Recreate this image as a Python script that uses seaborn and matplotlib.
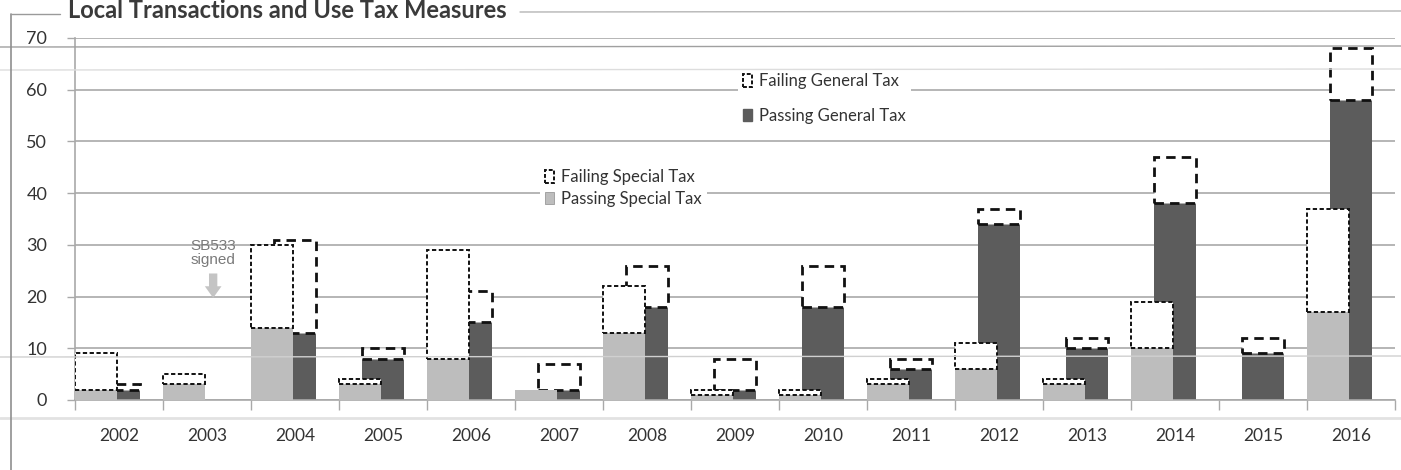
import numpy as np
import pandas as pd
import matplotlib
matplotlib.use("Agg")
import matplotlib.pyplot as plt
from matplotlib.patches import Patch
from matplotlib.lines import Line2D
import seaborn as sns

# Measures per election year
years = [2002, 2003, 2004, 2005, 2006, 2007, 2008, 2009,
         2010, 2011, 2012, 2013, 2014, 2015, 2016]
special_pass = [2, 3, 14, 3, 8, 2, 13, 1, 1, 3, 6, 3, 10, 0, 17]
special_fail = [7, 2, 16, 1, 21, 0, 9, 1, 1, 1, 5, 1, 9, 0, 20]
general_pass = [2, 0, 13, 8, 15, 2, 18, 2, 18, 6, 34, 10, 38, 9, 58]
general_fail = [1, 0, 18, 2, 6, 5, 8, 6, 8, 2, 3, 2, 9, 3, 10]
y_ticks = [0, 10, 20, 30, 40, 50, 60, 70]

title = "Local Transactions and Use Tax Measures"

sns.set_theme(style="white")
plt.rcParams["font.family"] = ["Lato", "DejaVu Sans"]

C_SPECIAL = "#bdbdbd"
C_GENERAL = "#5c5c5c"
C_GRID = "#a9a9a9"
C_TEXT = "#333333"

pos = np.arange(len(years))
df = pd.DataFrame({
    "year": years,
    "pos": pos,
    "special_pass": special_pass,
    "special_fail": special_fail,
    "general_pass": general_pass,
    "general_fail": general_fail,
})
SPECIAL_SHIFT = -0.26

fig = plt.figure(figsize=(14.01, 4.70), dpi=100)
ax = fig.add_axes([75 / 1401, 70 / 470, 1320 / 1401, 362 / 470])


def stacked(kind, shift, width, color, dash, lw, z):
    p = df[df[f"{kind}_pass"] > 0]
    sns.barplot(x=p["pos"] + shift, y=p[f"{kind}_pass"], native_scale=True,
                width=width, color=color, saturation=1, edgecolor=color,
                linewidth=0, errorbar=None, zorder=z, ax=ax)
    f = df[df[f"{kind}_fail"] > 0]
    sns.barplot(x=f["pos"] + shift, y=f[f"{kind}_fail"], native_scale=True,
                width=width, bottom=f[f"{kind}_pass"].to_numpy(),
                color="white", saturation=1, edgecolor="#111111",
                linewidth=lw, linestyle=dash, errorbar=None,
                zorder=z + 0.5, ax=ax)


# General-tax bars sit on the year, special-tax bars overlap them on the left
stacked("general", 0.0, 0.48, C_GENERAL, (0, (3.4, 2.2)), 2.0, 2)
stacked("special", SPECIAL_SHIFT, 0.47, C_SPECIAL, (0, (2.2, 1.3)), 1.4, 4)

ax.set_xlim(-0.5, len(years) - 0.5)
ax.set_ylim(0, 70)
ax.set_xticks(pos)
ax.set_xticklabels([str(y) for y in years])
ax.set_xticks(np.arange(len(years) + 1) - 0.5, minor=True)
ax.set_yticks(y_ticks)
ax.set_xlabel("")
ax.set_ylabel("")
ax.tick_params(axis="x", which="major", length=0, pad=20, labelsize=12.5,
               labelcolor=C_TEXT)
ax.tick_params(axis="x", which="minor", length=7, width=1, color=C_GRID,
               direction="out", bottom=True)
ax.tick_params(axis="y", length=6, width=1, color=C_GRID, pad=14,
               labelsize=13, labelcolor=C_TEXT, left=True)
ax.yaxis.grid(True, color=C_GRID, linewidth=1.2)
ax.set_axisbelow(True)
for s in ["top", "right"]:
    ax.spines[s].set_visible(False)
for s in ["left", "bottom"]:
    ax.spines[s].set_color(C_GRID)
    ax.spines[s].set_linewidth(1.2)

# Legends
general_handles = [
    Patch(facecolor="white", edgecolor="#111111", linewidth=1.4,
          linestyle=(0, (2, 1))),
    Patch(facecolor=C_GENERAL, edgecolor=C_GENERAL),
]
special_handles = [
    Patch(facecolor="white", edgecolor="#111111", linewidth=1.4,
          linestyle=(0, (2, 1))),
    Patch(facecolor=C_SPECIAL, edgecolor="#9a9a9a", linewidth=0.6),
]
leg_general = ax.legend(
    general_handles, ["Failing General Tax", "Passing General Tax"],
    loc="upper left", bbox_to_anchor=(730 / 1401, 1 - 60 / 470),
    bbox_transform=fig.transFigure, frameon=True, facecolor="white",
    edgecolor="none", fancybox=False, framealpha=1, fontsize=12,
    handlelength=0.5, handleheight=0.75, handletextpad=0.45,
    labelspacing=1.1, borderpad=0.3, labelcolor=C_TEXT)
leg_general.set_zorder(6)
ax.add_artist(leg_general)
leg_special = ax.legend(
    special_handles, ["Failing Special Tax", "Passing Special Tax"],
    loc="upper left", bbox_to_anchor=(532 / 1401, 1 - 156 / 470),
    bbox_transform=fig.transFigure, frameon=True, facecolor="white",
    edgecolor="none", fancybox=False, framealpha=1, fontsize=12,
    handlelength=0.5, handleheight=0.75, handletextpad=0.45,
    labelspacing=0.35, borderpad=0.3, labelcolor=C_TEXT)
leg_special.set_zorder(6)

# Annotation for the 2003 legislation
ax.annotate("", xy=(1.07, 19.2), xytext=(1.07, 25.0),
            arrowprops=dict(arrowstyle="simple,head_width=1.0,head_length=0.7,tail_width=0.5",
                            color="#c4c4c4", lw=0), zorder=5)
ax.text(1.07, 28.4, "SB533\nsigned", ha="center", va="center",
        fontsize=11, color="#7a7a7a", family=["Liberation Sans", "DejaVu Sans"],
        linespacing=1.0, zorder=5)

# Title at the top edge of the page
fig.text(68 / 1401, 1 - 18 / 470, title, ha="left", va="baseline",
         fontsize=17, fontweight="bold", color="#3a3a3a")

# Page rules around the figure
def rule(x0, y0, x1, y1, color, lw=1.0, z=10):
    fig.add_artist(Line2D([x0 / 1401, x1 / 1401], [1 - y0 / 470, 1 - y1 / 470],
                          transform=fig.transFigure, color=color, lw=lw, zorder=z))

rule(11, 14, 11, 470, "#8f8f8f", 1.2)
rule(11, 14, 60, 14, "#9a9a9a", 1.0)
rule(0, 47, 1401, 46, "#a0a0a0", 1.0, 1)
rule(520, 12, 1401, 11, "#b5b5b5", 1.0, 1)
rule(0, 70, 1401, 69, "#dddddd", 1.0, 1)
rule(0, 357, 1401, 356, "#d0d0d0", 1.0, 1)
rule(0, 418, 1401, 418, "#e2e2e2", 2.0, 1)

fig.savefig("out.png", dpi=100, facecolor="white")
